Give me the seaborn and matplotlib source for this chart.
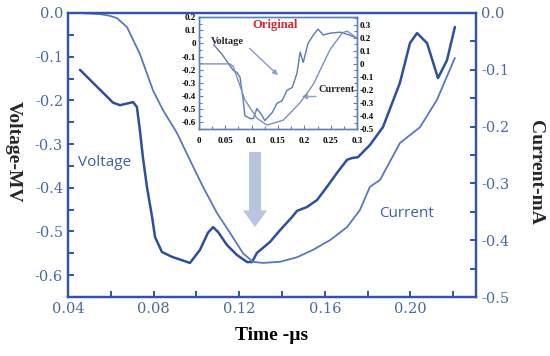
import numpy as np
import pandas as pd
import matplotlib
matplotlib.use("Agg")
import matplotlib.pyplot as plt
from matplotlib.ticker import MultipleLocator, FixedLocator
import seaborn as sns

## main curves
volt_t = [0.0456, 0.0610, 0.0643, 0.0704, 0.0722, 0.0736, 0.0750, 0.0769, 0.0793, 0.0807,
          0.0839, 0.0886, 0.0970, 0.1017, 0.1054, 0.1078, 0.1101, 0.1143, 0.1190, 0.1237,
          0.1260, 0.1283, 0.1344, 0.1391, 0.1447, 0.1470, 0.1517, 0.1564, 0.1610, 0.1657,
          0.1704, 0.1727, 0.1755, 0.1779, 0.1811, 0.1872, 0.1951, 0.1998, 0.2031, 0.2078,
          0.2129, 0.2171, 0.2208]
volt_v = [-0.130, -0.205, -0.211, -0.204, -0.215, -0.268, -0.330, -0.398, -0.467, -0.513,
          -0.547, -0.558, -0.572, -0.542, -0.503, -0.490, -0.501, -0.531, -0.554, -0.570,
          -0.570, -0.549, -0.524, -0.497, -0.467, -0.453, -0.444, -0.428, -0.398, -0.366,
          -0.336, -0.332, -0.330, -0.318, -0.302, -0.261, -0.160, -0.069, -0.046, -0.069,
          -0.149, -0.108, -0.032]

curr_t = [0.0456, 0.0550, 0.0596, 0.0629, 0.0676, 0.0736, 0.0797, 0.0844, 0.0909, 0.0970,
          0.1031, 0.1096, 0.1157, 0.1218, 0.1264, 0.1311, 0.1391, 0.1470, 0.1545, 0.1624,
          0.1704, 0.1764, 0.1811, 0.1858, 0.1951, 0.2045, 0.2124, 0.2208]
curr_v = [0.000, -0.002, -0.005, -0.009, -0.025, -0.072, -0.136, -0.171, -0.211, -0.259,
          -0.306, -0.352, -0.387, -0.423, -0.438, -0.440, -0.438, -0.430, -0.417, -0.400,
          -0.377, -0.347, -0.306, -0.294, -0.229, -0.201, -0.153, -0.079]

## inset ("Original") curves
in_volt_t = [0.028, 0.045, 0.065, 0.072, 0.078, 0.084, 0.087, 0.097, 0.103, 0.110,
             0.120, 0.125, 0.139, 0.148, 0.158, 0.167, 0.177, 0.186, 0.192, 0.198,
             0.207, 0.217, 0.226, 0.236, 0.249, 0.268, 0.281, 0.300]
in_volt_v = [-0.010, -0.090, -0.205, -0.220, -0.258, -0.434, -0.548, -0.571, -0.571, -0.495,
             -0.548, -0.586, -0.525, -0.456, -0.434, -0.357, -0.334, -0.227, -0.067, -0.144,
             0.000, 0.063, 0.108, 0.063, 0.078, 0.085, 0.070, 0.040]

in_curr_t = [0.000, 0.059, 0.065, 0.087, 0.110, 0.129, 0.160, 0.192, 0.217, 0.249,
             0.272, 0.281, 0.300]
in_curr_v = [0.000, 0.000, -0.020, -0.275, -0.417, -0.470, -0.432, -0.298, -0.157, 0.111,
             0.237, 0.253, 0.198]

main_xticks = [0.04, 0.08, 0.12, 0.16, 0.20]
main_xlabels = ["0.04", "0.08", "0.12", "0.16", "0.20"]
in_xticks = [0, 0.05, 0.1, 0.15, 0.2, 0.25, 0.3]
in_xlabels = ["0", "0.05", "0.1", "0.15", "0.2", "0.25", "0.3"]

volt = pd.DataFrame({"t": volt_t, "v": volt_v})
curr = pd.DataFrame({"t": curr_t, "v": curr_v})
in_volt = pd.DataFrame({"t": in_volt_t, "v": in_volt_v})
in_curr = pd.DataFrame({"t": in_curr_t, "v": in_curr_v})

sns.set_theme(style="ticks")
plt.rcParams["font.family"] = ["DejaVu Serif"]
plt.rcParams["axes.unicode_minus"] = False
plt.rcParams["lines.solid_joinstyle"] = "round"
plt.rcParams["lines.solid_capstyle"] = "round"

spine_c = "#2f55a4"
tick_c = "#4a6a9e"
volt_c = "#2d4f9e"
curr_c = "#5878bb"

fig = plt.figure(figsize=(5.5, 3.56), dpi=100)
ax = fig.add_axes([0.1236, 0.1657, 0.742, 0.7978])
ax2 = ax.twinx()

sns.lineplot(data=volt, x="t", y="v", ax=ax, color=volt_c, lw=1.8, sort=False)
sns.lineplot(data=curr, x="t", y="v", ax=ax2, color=curr_c, lw=1.3, sort=False)

ax.set_xlim(0.04, 0.2307)
ax.set_ylim(-0.65, 0.0)
ax2.set_ylim(-0.5, 0.0)

ax.xaxis.set_major_locator(FixedLocator(main_xticks))
ax.set_xticklabels(main_xlabels)
ax.xaxis.set_minor_locator(MultipleLocator(0.02))
ax.yaxis.set_major_locator(MultipleLocator(0.1))
ax.yaxis.set_minor_locator(MultipleLocator(0.05))
ax2.yaxis.set_major_locator(MultipleLocator(0.1))
ax2.yaxis.set_minor_locator(MultipleLocator(0.05))
ax.yaxis.set_major_formatter(lambda v, p: f"{v:.1f}" if abs(v) > 1e-9 else "0.0")
ax2.yaxis.set_major_formatter(lambda v, p: f"{v:.1f}" if abs(v) > 1e-9 else "0.0")

for a in (ax, ax2):
    a.set_xlabel("")
    a.set_ylabel("")
    for s in a.spines.values():
        s.set_color(spine_c)
        s.set_linewidth(1.6)
    a.tick_params(which="both", direction="in", color=spine_c, width=1.4,
                  labelcolor=tick_c, labelsize=10.5)
    a.tick_params(which="major", length=4)
    a.tick_params(which="minor", length=4)

ax.set_xlabel("Time -µs", family="Liberation Serif", fontweight="bold",
              fontsize=14, color="black")
ax.xaxis.set_label_coords(0.5, -0.105)
fig.text(0.025, 0.573, "Voltage-MV", rotation=270, ha="center", va="center",
         family="Liberation Serif", fontweight="bold", fontsize=14)
fig.text(0.973, 0.517, "Current-mA", rotation=270, ha="center", va="center",
         family="Liberation Serif", fontweight="bold", fontsize=14)

ax.text(0.0573, -0.343, "Voltage", family="Open Sans", fontsize=11,
        color="#3b5ea6", ha="center", va="center")
ax.text(0.1984, -0.458, "Current", family="Open Sans", fontsize=11,
        color="#3b5ea6", ha="center", va="center")

ax.annotate("", xy=(0.1274, -0.49), xytext=(0.1274, -0.318),
            arrowprops=dict(arrowstyle="simple,head_length=0.6,head_width=0.87,tail_width=0.43",
                            mutation_scale=20, color="#b7c5df", lw=0,
                            shrinkA=0, shrinkB=0))

## inset
in_c = "#5f7fb8"
iax = fig.add_axes([0.3618, 0.6376, 0.2873, 0.3146])
iax.set_facecolor("white")
iax2 = iax.twinx()
sns.lineplot(data=in_volt, x="t", y="v", ax=iax, color="#5a7ab5", lw=1.0, sort=False)
sns.lineplot(data=in_curr, x="t", y="v", ax=iax2, color="#7892c4", lw=1.0, sort=False)
iax.set_xlim(0, 0.3)
iax.set_ylim(-0.65, 0.2)
iax2.set_ylim(-0.5, 0.36)
iax.xaxis.set_major_locator(FixedLocator(in_xticks))
iax.set_xticklabels(in_xlabels)
iax.xaxis.set_minor_locator(MultipleLocator(0.025))
iax.yaxis.set_major_locator(MultipleLocator(0.1))
iax.yaxis.set_minor_locator(MultipleLocator(0.05))
iax2.yaxis.set_major_locator(MultipleLocator(0.1))
iax2.yaxis.set_minor_locator(MultipleLocator(0.05))
fmt = lambda v, p: "0" if abs(v) < 1e-9 else f"{v:g}"
iax.yaxis.set_major_formatter(fmt)
iax2.yaxis.set_major_formatter(fmt)
for a in (iax, iax2):
    a.set_xlabel("")
    a.set_ylabel("")
    for s in a.spines.values():
        s.set_color(in_c)
        s.set_linewidth(1.0)
    a.tick_params(which="both", direction="in", color=in_c, width=0.8,
                  labelsize=6.5, pad=2, labelcolor="black")
    a.tick_params(which="major", length=3)
    a.tick_params(which="minor", length=2)
    a.tick_params(axis="x", pad=6)
    for lab in a.get_xticklabels() + a.get_yticklabels():
        lab.set_family("Liberation Serif")
        lab.set_fontweight("bold")

iax.text(0.48, 0.93, "Original", transform=iax.transAxes, color="#d9262b",
         family="Liberation Serif", fontweight="bold", fontsize=9,
         ha="center", va="center")
iax.text(0.18, 0.78, "Voltage", transform=iax.transAxes, family="Liberation Serif",
         fontweight="bold", fontsize=7.5, ha="center", va="center")
iax.text(0.87, 0.35, "Current", transform=iax.transAxes, family="Liberation Serif",
         fontweight="bold", fontsize=7.5, ha="center", va="center")
iax.annotate("", xy=(0.5, 0.48), xytext=(0.32, 0.72), xycoords="axes fraction",
             arrowprops=dict(arrowstyle="-|>", color="#8ea2c9", lw=1.1,
                             mutation_scale=7, shrinkA=0, shrinkB=0))
iax.annotate("", xy=(0.65, 0.29), xytext=(0.74, 0.29), xycoords="axes fraction",
             arrowprops=dict(arrowstyle="-|>", color="#8ea2c9", lw=1.1,
                             mutation_scale=7, shrinkA=0, shrinkB=0))

fig.savefig("out.png", dpi=100)
